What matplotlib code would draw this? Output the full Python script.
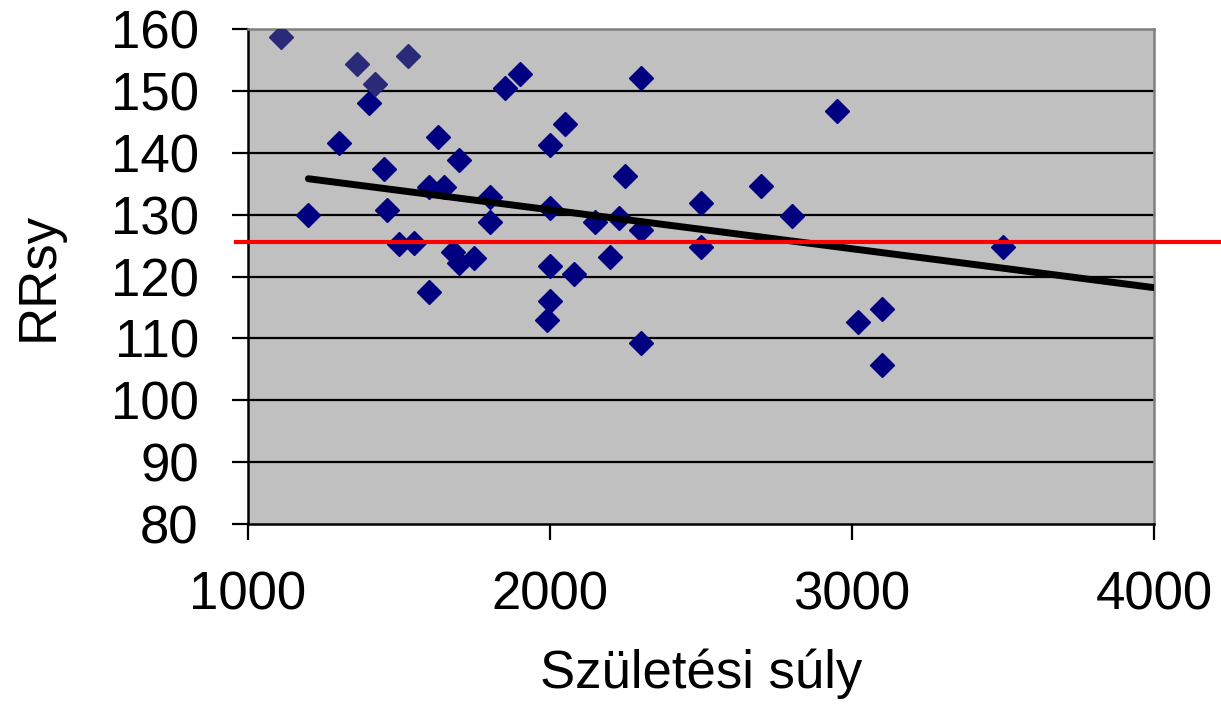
import numpy as np
import matplotlib
matplotlib.use("Agg")
from matplotlib import pyplot as plt

plt.rcParams["font.family"] = ["Liberation Sans", "DejaVu Sans"]

# birth weight (g) vs systolic pressure
weight = [1200, 1300, 1400, 1450, 1460, 1500, 1550, 1600, 1600, 1630,
          1650, 1680, 1700, 1700, 1750, 1800, 1800, 1850, 1900, 2000,
          2000, 2050, 2000, 2000, 1990, 2080, 2150, 2200, 2230, 2250,
          2300, 2300, 2300, 2500, 2500, 2700, 2800, 2950, 3020, 3100,
          3100, 3500]
rrsy = [130.0, 141.6, 148.0, 137.4, 130.7, 125.3, 125.4, 117.5, 134.5, 142.5,
        134.5, 124.0, 138.8, 122.2, 123.0, 132.8, 128.8, 150.5, 152.7, 141.3,
        131.1, 144.6, 121.7, 116.0, 113.0, 120.4, 128.8, 123.2, 129.5, 136.2,
        127.5, 152.1, 109.3, 131.9, 124.8, 134.6, 129.8, 146.8, 112.6, 114.7,
        105.7, 124.8]

# second group (upper left)
weight_b = [1110, 1360, 1420, 1530]
rrsy_b = [158.7, 154.3, 151.1, 155.6]

# trend line end points
trend_x = [1200, 4000]
trend_y = [135.8, 118.2]

ref_level = 125.6
ref_x = [960, 4230]

fig = plt.figure(figsize=(12.21, 7.12), dpi=100)
ax = fig.add_axes([0.2031, 0.2640, 0.9451 - 0.2031, 0.9593 - 0.2640])
ax.set_facecolor("#c0c0c0")

ax.set_xlim(1000, 4000)
ax.set_ylim(80, 160)
ax.set_xticks([1000, 2000, 3000, 4000])
ax.set_yticks(np.arange(80, 161, 10))

for v in range(90, 160, 10):
    ax.axhline(v, color="black", lw=1.6, zorder=1)

ax.plot(weight, rrsy, "D", color="#000080", ms=11.8, mec="#000080", zorder=3)
ax.plot(weight_b, rrsy_b, "D", color="#2a2a78", ms=11.8, mec="#2a2a78", zorder=3)
ax.plot(trend_x, trend_y, color="black", lw=5, solid_capstyle="round", zorder=4)
ax.plot(ref_x, [ref_level, ref_level], color="red", lw=3, clip_on=False, zorder=5)

for s in ["top", "right"]:
    ax.spines[s].set_color("#808080")
    ax.spines[s].set_linewidth(1.8)
for s in ["left", "bottom"]:
    ax.spines[s].set_color("black")
    ax.spines[s].set_linewidth(1.8)

ax.tick_params(axis="both", direction="out", length=11.5, width=1.6,
               labelsize=38, colors="black")
ax.tick_params(axis="y", pad=24)
ax.tick_params(axis="x", pad=22)

ax.set_xlabel("Születési súly", fontsize=38, labelpad=20)
ax.set_ylabel("RRsy", fontsize=38, labelpad=34)

fig.savefig("out.png", dpi=100)
